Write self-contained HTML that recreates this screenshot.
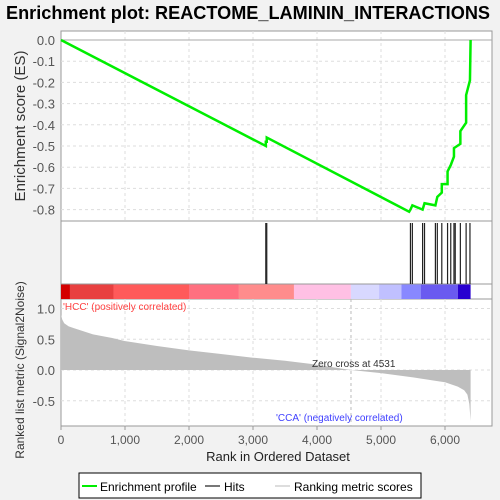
<!DOCTYPE html>
<html><head><meta charset="utf-8"><style>
body{margin:0;background:#f2f2f2;}
svg{display:block;font-family:"Liberation Sans",sans-serif;}
</style></head><body>
<svg id="c" width="500" height="500">
<text x="6" y="19" font-size="18" font-weight="bold" fill="#000" textLength="484" lengthAdjust="spacingAndGlyphs">Enrichment plot: REACTOME_LAMININ_INTERACTIONS</text>
</svg>
<script>
const esRanks=[0,3200,3200,3215,3215,5440,5460,5490,5650,5680,5850,5880,5950,5950,6040,6040,6090,6140,6140,6240,6240,6330,6330,6390,6400];
const esValues=[0,-0.50,-0.48,-0.48,-0.46,-0.81,-0.80,-0.78,-0.80,-0.77,-0.78,-0.74,-0.72,-0.68,-0.68,-0.62,-0.59,-0.55,-0.51,-0.49,-0.43,-0.39,-0.26,-0.19,0];
const hitRanks=[3200,3215,5460,5490,5650,5680,5850,5880,5950,6040,6090,6140,6160,6240,6330,6390];
const metricRanks=[0,20,50,120,200,350,500,800,1000,1500,2000,2500,3000,3500,3900,4531,5000,5500,6000,6200,6300,6350,6380,6400];
const metricValues=[0.9,0.82,0.76,0.71,0.68,0.63,0.58,0.52,0.47,0.39,0.32,0.26,0.2,0.15,0.1,0,-0.05,-0.12,-0.2,-0.27,-0.33,-0.4,-0.55,-0.83];
const esTicks=[0,-0.1,-0.2,-0.3,-0.4,-0.5,-0.6,-0.7,-0.8];
const metricTicks=[1.0,0.5,0.0,-0.5];
const xTicks=[0,1000,2000,3000,4000,5000,6000];
const xTickLabels=["0","1,000","2,000","3,000","4,000","5,000","6,000"];
const bandEnds=[140,820,2000,2780,3640,4530,4970,5320,5620,6200,6400];
const bandColors=["#d40000","#e84040","#ff5a5a","#ff7080","#ff8c8c","#ffc0e4","#d8d8ff","#c0c0ff","#8888ff","#6a5af0","#2800d0"];

const svg=document.getElementById('c');const NS='http://www.w3.org/2000/svg';
const L=61,R=492;
const X=r=>L+r*0.064;
const YE=v=>40-v*212;
const YM=v=>370-v*61.5;
function mk(t,a,p){const e=document.createElementNS(NS,t);for(const k in a)e.setAttribute(k,a[k]);(p||svg).appendChild(e);return e;}
let p1=mk('rect',{x:L,y:31,width:R-L,height:190,fill:'#fff',stroke:'#999'});


let p2=mk('rect',{x:L,y:221,width:R-L,height:78,fill:'#fff',stroke:'#999'});


let p3=mk('rect',{x:L,y:299,width:R-L,height:127,fill:'#fff',stroke:'#999'});


xTicks.forEach((t,i)=>{if(i==0)return;
 mk('line',{x1:X(t),x2:X(t),y1:31,y2:221,stroke:'#ddd','stroke-dasharray':'3,3'});
 mk('line',{x1:X(t),x2:X(t),y1:299,y2:426,stroke:'#ddd','stroke-dasharray':'3,3'});});
esTicks.forEach(t=>{mk('line',{x1:L,x2:R,y1:YE(t),y2:YE(t),stroke:t==0?'#aaa':'#ddd','stroke-dasharray':t==0?'':'3,3'});
 let tx=mk('text',{x:55,y:YE(t)+5,'font-size':13,fill:'#555','text-anchor':'end'});tx.textContent=t.toFixed(1);
 
 });
metricTicks.forEach(t=>{mk('line',{x1:L,x2:R,y1:YM(t),y2:YM(t),stroke:'#ddd','stroke-dasharray':'3,3'});
 let tx=mk('text',{x:55,y:YM(t)+5,'font-size':13,fill:'#555','text-anchor':'end'});tx.textContent=t.toFixed(1);
 
 });
let prev=0;bandEnds.forEach((e,i)=>{let r=mk('rect',{x:X(prev),y:284,width:X(e)-X(prev),height:15,fill:bandColors[i]});
 
 prev=e;});
mk('line',{x1:L,x2:R,y1:284,y2:284,stroke:'#999'});
hitRanks.forEach(h=>{let l=mk('line',{x1:X(h),x2:X(h),y1:223,y2:284,stroke:'#222','stroke-width':1.2});
 
 });
let d='M'+X(0)+','+YM(0);metricRanks.forEach((r,i)=>d+=' L'+X(r)+','+YM(metricValues[i]));d+=' L'+X(6400)+','+YM(0)+'Z';
let ar=mk('path',{d:d,fill:'#bebebe'});


mk('line',{x1:X(4531),x2:X(4531),y1:299,y2:426,stroke:'#bbb','stroke-dasharray':'3,3'});
let pts=esRanks.map((r,i)=>X(r)+','+YE(esValues[i])).join(' ');
let pl=mk('polyline',{points:pts,fill:'none',stroke:'#00ee00','stroke-width':2.5});


function txt(s,a,n){let t=mk('text',a);t.textContent=s;
 
 return t;}
txt("'HCC' (positively correlated)",{x:63,y:310,'font-size':10,fill:'#ff4040'},'positive-label');
txt("'CCA' (negatively correlated)",{x:276,y:421,'font-size':10,fill:'#4040ff'},'negative-label');
txt("Zero cross at 4531",{x:312,y:367,'font-size':10,fill:'#333'},'zero-cross-label');
xTicks.forEach((t,i)=>{txt(xTickLabels[i],{x:X(t),y:444,'font-size':12,fill:'#555','text-anchor':'middle'},'x-tick-label');});
xTicks.forEach(t=>mk('line',{x1:X(t),x2:X(t),y1:426,y2:430,stroke:'#999'}));
txt("Rank in Ordered Dataset",{x:278,y:461,'font-size':13,fill:'#222','text-anchor':'middle'},'x-axis-title');
txt("Enrichment score (ES)",{x:0,y:0,'font-size':15,fill:'#333','text-anchor':'middle',transform:'translate(25,126) rotate(-90)'},'es-axis-title');
txt("Ranked list metric (Signal2Noise)",{x:0,y:0,'font-size':12,fill:'#333','text-anchor':'middle',transform:'translate(24,370) rotate(-90)'},'metric-axis-title');
let lg=mk('rect',{x:79,y:473,width:342,height:25,fill:'#fff',stroke:'#000'});


mk('line',{x1:82,x2:97,y1:486,y2:486,stroke:'#00ee00','stroke-width':2});
txt("Enrichment profile",{x:100,y:491,'font-size':12,fill:'#000'},'legend-entry-enrichment');
mk('line',{x1:205,x2:220,y1:486,y2:486,stroke:'#777','stroke-width':2});
txt("Hits",{x:224,y:491,'font-size':12,fill:'#000'},'legend-entry-hits');
mk('line',{x1:275,x2:290,y1:486,y2:486,stroke:'#ddd','stroke-width':2});
txt("Ranking metric scores",{x:294,y:491,'font-size':12,fill:'#000'},'legend-entry-metric');
</script>
</body></html>
